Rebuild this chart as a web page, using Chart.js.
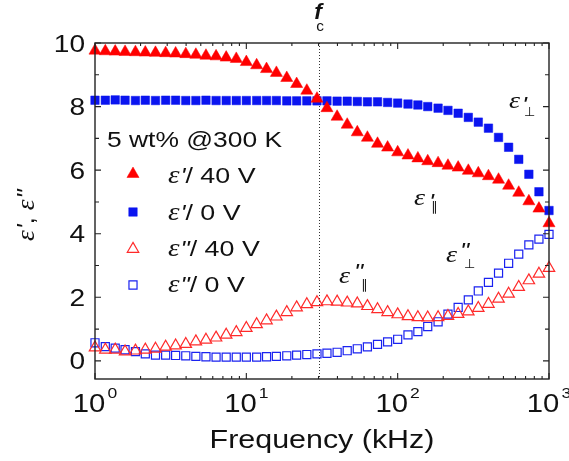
<!DOCTYPE html>
<html>
<head>
<meta charset="utf-8">
<script src="https://cdn.jsdelivr.net/npm/chart.js@4/dist/chart.umd.min.js"></script>
<style>
  html, body { margin: 0; padding: 0; background: #fff; }
  canvas { display: block; }
</style>
</head>
<body>
<canvas id="c" width="569" height="461"></canvas>
<script>
// ---------------- data ----------------
const freqKHz = [1, 1.17, 1.36, 1.58, 1.85, 2.15, 2.51, 2.93, 3.41, 3.98,
  4.64, 5.41, 6.31, 7.36, 8.58, 10, 11.7, 13.6, 15.8, 18.5,
  21.5, 25.1, 29.3, 34.1, 39.8, 46.4, 54.1, 63.1, 73.6, 85.8,
  100, 117, 136, 158, 185, 215, 251, 293, 341, 398,
  464, 541, 631, 736, 858, 1000];

const epsReal40V = [9.76, 9.74, 9.73, 9.72, 9.71, 9.70, 9.69, 9.68, 9.67, 9.65,
  9.63, 9.60, 9.58, 9.54, 9.50, 9.40, 9.30, 9.18, 9.06, 8.90,
  8.71, 8.50, 8.25, 7.95, 7.68, 7.43, 7.19, 7.02, 6.83, 6.71,
  6.56, 6.46, 6.37, 6.28, 6.22, 6.14, 6.08, 5.98, 5.90, 5.81,
  5.70, 5.51, 5.29, 5.02, 4.79, 4.33];

const epsReal0V = [8.20, 8.20, 8.21, 8.20, 8.19, 8.20, 8.19, 8.20, 8.20, 8.19,
  8.19, 8.20, 8.19, 8.19, 8.19, 8.19, 8.19, 8.19, 8.19, 8.18,
  8.18, 8.18, 8.18, 8.18, 8.17, 8.17, 8.16, 8.15, 8.15, 8.13,
  8.11, 8.08, 8.05, 8.00, 7.95, 7.88, 7.79, 7.66, 7.51, 7.32,
  7.03, 6.72, 6.34, 5.87, 5.32, 4.73];

const epsImag40V = [0.42, 0.35, 0.35, 0.29, 0.32, 0.35, 0.38, 0.44, 0.48, 0.53,
  0.61, 0.66, 0.73, 0.82, 0.90, 1.03, 1.15, 1.27, 1.39, 1.53,
  1.68, 1.78, 1.84, 1.87, 1.86, 1.83, 1.80, 1.72, 1.62, 1.53,
  1.46, 1.40, 1.37, 1.36, 1.37, 1.41, 1.47, 1.55, 1.66, 1.79,
  1.95, 2.11, 2.32, 2.53, 2.74, 2.92];

const epsImag0V = [0.57, 0.45, 0.40, 0.35, 0.29, 0.22, 0.18, 0.18, 0.17, 0.16,
  0.14, 0.13, 0.12, 0.12, 0.12, 0.12, 0.12, 0.13, 0.14, 0.16,
  0.18, 0.20, 0.22, 0.24, 0.27, 0.32, 0.38, 0.44, 0.52, 0.60,
  0.68, 0.82, 0.92, 1.08, 1.23, 1.47, 1.68, 1.92, 2.20, 2.47,
  2.76, 3.07, 3.36, 3.65, 3.83, 3.98];

const seriesNames = ["/ 40 V", "/ 0 V", "/ 40 V", "/ 0 V"];
const seriesPrimes = ["'", "'", "\"", "\""];
const xTickValues = [1, 10, 100, 1000];
const xTickExponents = ["0", "1", "2", "3"];
const yTickValues = [0, 2, 4, 6, 8, 10];
const fcKHz = 30;
const xTitle = "Frequency (kHz)";
const sampleLabel = "5 wt% @300 K";

// ---------------- chart ----------------
const SX = 1.17;
const SANS = "'Liberation Sans', Arial, sans-serif";
const SERIF = "'Liberation Serif', 'Times New Roman', serif";
const INK = '#111';

function pts(ys) { return freqKHz.map((f, i) => ({ x: f, y: ys[i] })); }

function stretchText(ctx, s, x, y, font, sx, align) {
  ctx.save();
  ctx.font = font;
  const w = ctx.measureText(s).width * sx;
  let x0 = x;
  if (align === 'center') x0 = x - w / 2;
  else if (align === 'right') x0 = x - w;
  ctx.translate(x0, y);
  ctx.scale(sx, 1);
  ctx.textBaseline = 'alphabetic';
  ctx.textAlign = 'left';
  ctx.fillText(s, 0, 0);
  ctx.restore();
  return w;
}

function marker(ctx, style, r, fill, stroke, bw, x, y) {
  ctx.save();
  ctx.fillStyle = fill;
  ctx.strokeStyle = stroke;
  ctx.lineWidth = bw;
  if (Chart.helpers && Chart.helpers.drawPoint) {
    Chart.helpers.drawPoint(ctx, { pointStyle: style, radius: r, rotation: 0, borderWidth: bw }, x, y);
  }
  ctx.restore();
}

const decor = {
  id: 'decor',
  beforeDatasetsDraw(chart) {
    const ctx = chart.ctx, ca = chart.chartArea, xs = chart.scales.x;
    const x = Math.round(xs.getPixelForValue(fcKHz)) + 0.5;
    ctx.save();
    ctx.strokeStyle = '#333';
    ctx.lineWidth = 1;
    ctx.setLineDash([1, 2]);
    ctx.beginPath();
    ctx.moveTo(x, ca.top);
    ctx.lineTo(x, ca.bottom);
    ctx.stroke();
    ctx.restore();
  },
  afterDraw(chart) {
    const ctx = chart.ctx, ca = chart.chartArea, xs = chart.scales.x, ys = chart.scales.y;
    ctx.save();
    // frame
    ctx.strokeStyle = '#222';
    ctx.lineWidth = 1.4;
    ctx.strokeRect(ca.left, ca.top, ca.right - ca.left, ca.bottom - ca.top);
    // x ticks (inward, top & bottom)
    ctx.lineWidth = 1.1;
    ctx.beginPath();
    for (let d = 1; d <= 1000; d *= 10) {
      const x = xs.getPixelForValue(d);
      ctx.moveTo(x, ca.bottom); ctx.lineTo(x, ca.bottom - 6);
      ctx.moveTo(x, ca.top); ctx.lineTo(x, ca.top + 6);
      if (d < 1000) {
        for (let m = 2; m <= 9; m++) {
          const xm = xs.getPixelForValue(d * m);
          ctx.moveTo(xm, ca.bottom); ctx.lineTo(xm, ca.bottom - 3);
          ctx.moveTo(xm, ca.top); ctx.lineTo(xm, ca.top + 3);
        }
      }
    }
    // y ticks (inward, left & right)
    for (let v = 0; v <= 10; v++) {
      const y = ys.getPixelForValue(v);
      const L = v % 2 === 0 ? 6 : 4;
      ctx.moveTo(ca.left, y); ctx.lineTo(ca.left + L, y);
      ctx.moveTo(ca.right, y); ctx.lineTo(ca.right - L, y);
    }
    ctx.stroke();

    ctx.fillStyle = INK;
    // y tick labels
    yTickValues.forEach(v => {
      const y = ys.getPixelForValue(v);
      stretchText(ctx, String(v), 85, y + 8.5, `24px ${SANS}`, SX, 'right');
    });
    // x tick labels 10^n
    xTickValues.forEach((v, i) => {
      const x = xs.getPixelForValue(v);
      ctx.font = `25px ${SANS}`;
      const wb = ctx.measureText('10').width * SX;
      ctx.font = `15px ${SANS}`;
      const we = ctx.measureText(xTickExponents[i]).width * SX;
      const total = wb + 2 + we;
      const x0 = x - total / 2;
      stretchText(ctx, '10', x0, 412, `25px ${SANS}`, SX, 'left');
      stretchText(ctx, xTickExponents[i], x0 + wb + 2, 398, `15px ${SANS}`, SX, 'left');
    });
    // x title
    stretchText(ctx, xTitle, (ca.left + ca.right) / 2, 448, `26px ${SANS}`, SX, 'center');

    // y title (rotated)
    ctx.save();
    ctx.translate(34, 241);
    ctx.rotate(-Math.PI / 2);
    let cx = 0;
    cx += stretchText(ctx, 'ε', cx, 0, `italic 25px ${SERIF}`, 1.1, 'left');
    cx += stretchText(ctx, "'", cx + 1, 0, `italic 23px ${SANS}`, 1.1, 'left') + 1;
    cx += stretchText(ctx, ", ", cx, 0, `23px ${SANS}`, 1.1, 'left');
    cx += stretchText(ctx, 'ε', cx, 0, `italic 25px ${SERIF}`, 1.1, 'left');
    stretchText(ctx, '"', cx + 1, 0, `italic 23px ${SANS}`, 1.1, 'left');
    ctx.restore();

    // f_c
    stretchText(ctx, 'f', 318, 19, `italic bold 22px ${SANS}`, 1.05, 'center');
    stretchText(ctx, 'c', 320, 31, `14px ${SANS}`, 1.1, 'center');

    // sample label
    stretchText(ctx, sampleLabel, 107, 147, `22px ${SANS}`, 1.2, 'left');

    // legend
    const rows = [
      { my: 174, bl: 183 },
      { my: 212, bl: 220 },
      { my: 249, bl: 256 },
      { my: 285, bl: 292 }
    ];
    chart.data.datasets.forEach((ds, i) => {
      const r = rows[i];
      marker(ctx, ds.pointStyle, ds.pointRadius, ds.pointBackgroundColor, ds.pointBorderColor, ds.pointBorderWidth, 133, r.my);
      ctx.fillStyle = INK;
      let x = 168;
      x += stretchText(ctx, 'ε', x, r.bl, `italic 25px ${SERIF}`, SX, 'left');
      x += stretchText(ctx, seriesPrimes[i], x + 1, r.bl, `italic 22px ${SANS}`, SX, 'left') + 1;
      stretchText(ctx, seriesNames[i], x, r.bl, `22px ${SANS}`, 1.22, 'left');
    });

    // curve annotations
    ctx.fillStyle = INK;
    // eps'_perp
    stretchText(ctx, 'ε', 509, 108, `italic 24px ${SERIF}`, SX, 'left');
    stretchText(ctx, "'", 522, 112, `italic 22px ${SANS}`, SX, 'left');
    stretchText(ctx, '⊥', 524, 116, `13px 'DejaVu Sans', sans-serif`, 1, 'left');
    // eps'_par
    stretchText(ctx, 'ε', 414, 205, `italic 24px ${SERIF}`, SX, 'left');
    stretchText(ctx, "'", 429, 209, `italic 22px ${SANS}`, SX, 'left');
    stretchText(ctx, '∥', 431, 211, `13px 'DejaVu Sans', sans-serif`, 1, 'left');
    // eps''_par
    stretchText(ctx, 'ε', 339, 283, `italic 24px ${SERIF}`, SX, 'left');
    stretchText(ctx, '"', 354, 279, `italic 22px ${SANS}`, SX, 'left');
    stretchText(ctx, '∥', 361, 289, `13px 'DejaVu Sans', sans-serif`, 1, 'left');
    // eps''_perp
    stretchText(ctx, 'ε', 446, 262, `italic 24px ${SERIF}`, SX, 'left');
    stretchText(ctx, '"', 460, 258, `italic 22px ${SANS}`, SX, 'left');
    stretchText(ctx, '⊥', 464, 268, `13px 'DejaVu Sans', sans-serif`, 1, 'left');

    ctx.restore();
  }
};

new Chart(document.getElementById('c').getContext('2d'), {
  type: 'scatter',
  data: {
    datasets: [
      { label: "ε'/ 40 V", data: pts(epsReal40V), pointStyle: 'triangle', pointRadius: 7,
        pointBackgroundColor: '#ff0000', pointBorderColor: '#ff0000', pointBorderWidth: 0.5, showLine: false, clip: false },
      { label: "ε'/ 0 V", data: pts(epsReal0V), pointStyle: 'rect', pointRadius: 6,
        pointBackgroundColor: '#0a14f0', pointBorderColor: '#0a14f0', pointBorderWidth: 0.5, showLine: false, clip: false },
      { label: 'ε"/ 40 V', data: pts(epsImag40V), pointStyle: 'triangle', pointRadius: 6.6,
        pointBackgroundColor: 'rgba(0,0,0,0)', pointBorderColor: '#ff2a2a', pointBorderWidth: 1.2, showLine: false, clip: false },
      { label: 'ε"/ 0 V', data: pts(epsImag0V), pointStyle: 'rect', pointRadius: 5.7,
        pointBackgroundColor: 'rgba(0,0,0,0)', pointBorderColor: '#1a22f0', pointBorderWidth: 1.2, showLine: false, clip: false }
    ]
  },
  options: {
    responsive: false,
    animation: false,
    devicePixelRatio: 1,
    layout: { padding: { left: 95, right: 20, top: 43, bottom: 82 } },
    scales: {
      x: { type: 'logarithmic', min: 1, max: 1000, display: false },
      y: { type: 'linear', min: -0.57, max: 10, display: false }
    },
    plugins: { legend: { display: false }, tooltip: { enabled: false } },
    events: []
  },
  plugins: [decor]
});
</script>
</body>
</html>
